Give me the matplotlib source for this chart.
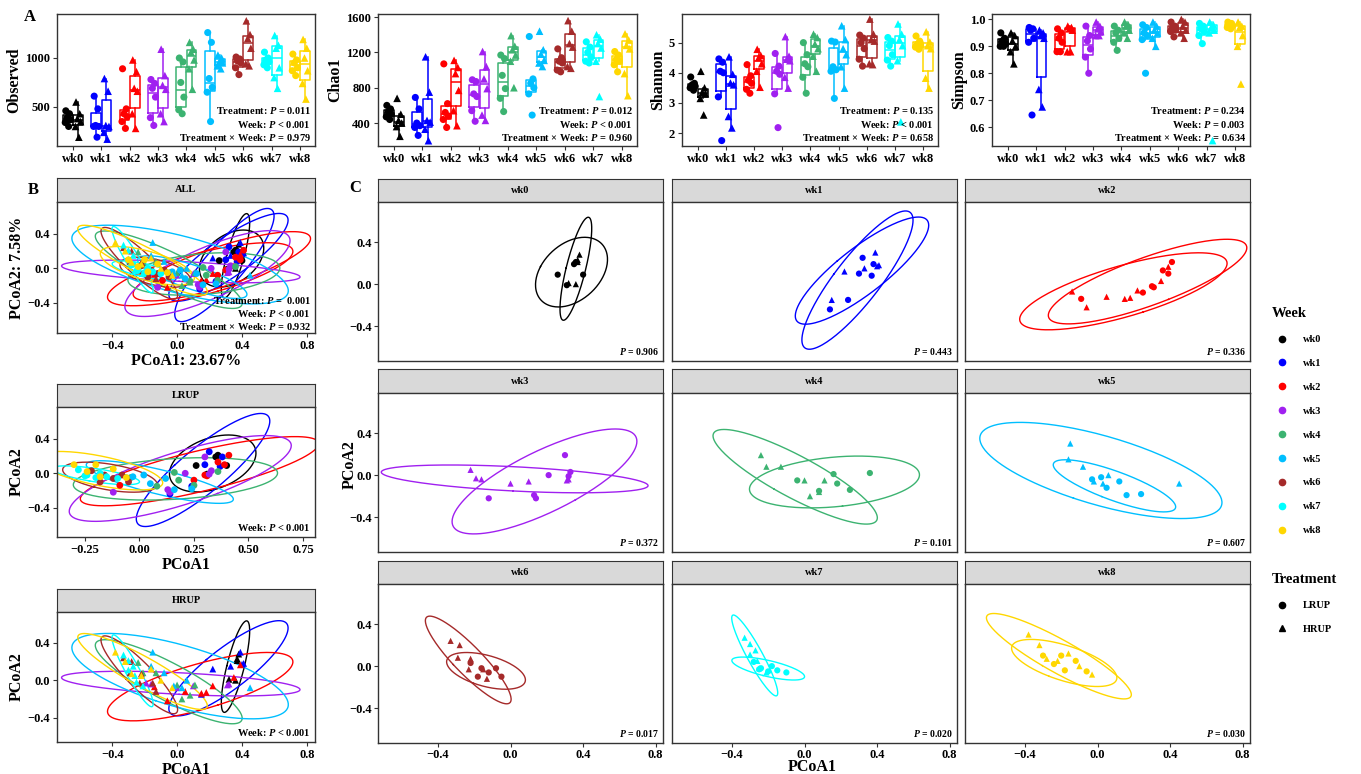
import numpy as np
import matplotlib
matplotlib.use("Agg")
import matplotlib.pyplot as plt
from matplotlib.lines import Line2D

plt.rcParams["font.family"] = ["Liberation Serif", "DejaVu Serif"]
plt.rcParams["font.weight"] = "bold"
plt.rcParams["axes.labelweight"] = "bold"
plt.rcParams["mathtext.fontset"] = "custom"
plt.rcParams["mathtext.it"] = "Liberation Serif:italic:bold"
plt.rcParams["mathtext.rm"] = "Liberation Serif:bold"

weeks = ["wk0", "wk1", "wk2", "wk3", "wk4", "wk5", "wk6", "wk7", "wk8"]
week_colors = ["#000000", "#0000FF", "#FF0000", "#A020F0", "#3CB371",
               "#00BFFF", "#A52A2A", "#00FFFF", "#FFD700"]
treatments = ["LRUP", "HRUP"]

# alpha diversity, 6 samples per group and week
observed_lrup = [[460, 430, 390, 370, 340, 300], [610, 480, 310, 300, 300, 190],
                 [890, 480, 430, 400, 350, 280], [780, 740, 690, 600, 390, 310],
                 [1000, 960, 750, 600, 470, 430], [1260, 1160, 790, 700, 650, 350],
                 [1010, 990, 970, 950, 900, 830], [1060, 1000, 980, 960, 930, 900],
                 [1040, 980, 950, 900, 870, 820]]
observed_hrup = [[550, 430, 380, 350, 300, 190], [790, 660, 310, 300, 240, 170],
                 [980, 860, 690, 660, 430, 280], [1090, 820, 720, 680, 430, 350],
                 [1160, 1090, 1060, 980, 890, 680], [1030, 1000, 960, 950, 920, 890],
                 [1380, 1240, 1200, 1100, 940, 920], [1230, 1130, 1100, 900, 800, 690],
                 [1190, 1100, 1000, 870, 740, 580]]
chao1_lrup = [[600, 560, 530, 500, 470, 440], [690, 560, 400, 370, 350, 260],
              [1070, 620, 520, 480, 440, 350], [890, 870, 730, 700, 540, 420],
              [1170, 1130, 940, 790, 680, 530], [1380, 900, 850, 800, 730, 490],
              [1240, 1140, 1100, 1080, 1000, 980], [1320, 1260, 1200, 1150, 1100, 1080],
              [1210, 1170, 1120, 1100, 1060, 980]]
chao1_hrup = [[680, 500, 430, 400, 360, 250], [1150, 750, 430, 410, 330, 200],
              [1110, 1030, 960, 770, 540, 370], [1210, 1040, 900, 790, 490, 430],
              [1390, 1270, 1230, 1170, 1100, 800], [1440, 1230, 1180, 1110, 1080, 1040],
              [1560, 1440, 1300, 1260, 1040, 1020], [1400, 1350, 1300, 1250, 1100, 700],
              [1410, 1340, 1280, 1240, 960, 710]]
shannon_lrup = [[3.86, 3.65, 3.6, 3.55, 3.5, 3.42], [4.46, 4.35, 4.05, 4.0, 3.2, 1.75],
                [4.27, 3.9, 3.75, 3.65, 3.45, 3.32], [4.64, 4.22, 4.05, 3.95, 3.3, 2.18],
                [5.0, 4.6, 4.3, 4.2, 3.85, 3.32], [5.05, 5.02, 4.2, 4.1, 4.05, 3.15],
                [5.25, 5.15, 5.0, 4.8, 4.45, 4.22], [5.17, 5.05, 4.9, 4.6, 4.42, 4.22],
                [5.22, 5.05, 4.95, 4.9, 4.85, 4.78]]
shannon_hrup = [[4.05, 3.5, 3.35, 3.3, 3.15, 2.6], [4.53, 3.95, 3.66, 3.6, 2.55, 2.17],
                [4.78, 4.57, 4.5, 4.3, 4.05, 3.52], [5.2, 4.55, 4.45, 4.4, 3.85, 3.49],
                [5.28, 5.17, 4.95, 4.8, 4.55, 4.05], [5.56, 5.1, 4.8, 4.6, 4.2, 3.49],
                [5.78, 5.28, 5.1, 5.05, 4.3, 4.27], [5.62, 5.28, 5.1, 4.9, 4.4, 2.37],
                [5.36, 5.02, 4.9, 4.8, 3.82, 3.49]]
simpson_lrup = [[0.95, 0.93, 0.92, 0.91, 0.9, 0.9], [0.97, 0.965, 0.96, 0.93, 0.915, 0.645],
                [0.965, 0.95, 0.93, 0.915, 0.88, 0.88], [0.975, 0.94, 0.92, 0.89, 0.86, 0.8],
                [0.975, 0.96, 0.95, 0.93, 0.915, 0.885], [0.98, 0.97, 0.95, 0.94, 0.925, 0.8],
                [0.99, 0.975, 0.97, 0.96, 0.955, 0.935], [0.985, 0.975, 0.965, 0.955, 0.94, 0.91],
                [0.99, 0.985, 0.98, 0.975, 0.97, 0.965]]
simpson_hrup = [[0.95, 0.94, 0.92, 0.9, 0.88, 0.835], [0.96, 0.95, 0.94, 0.93, 0.74, 0.675],
                [0.975, 0.97, 0.965, 0.96, 0.88, 0.88], [0.99, 0.975, 0.965, 0.955, 0.94, 0.94],
                [0.99, 0.98, 0.975, 0.96, 0.95, 0.93], [0.99, 0.975, 0.96, 0.95, 0.93, 0.9],
                [1.0, 0.99, 0.975, 0.96, 0.95, 0.93], [0.99, 0.98, 0.97, 0.96, 0.95, 0.55],
                [0.99, 0.975, 0.97, 0.94, 0.9, 0.76]]

alpha_p = {
    "Observed": ["0.011", "< 0.001", "0.979"],
    "Chao1": ["0.012", "< 0.001", "0.960"],
    "Shannon": ["0.135", "< 0.001", "0.658"],
    "Simpson": ["0.234", "= 0.003", "0.634"],
}

# PCoA scores (PCoA1, PCoA2) per week
pcoa_lrup = [
    [(0.26, 0.09), (0.40, 0.09), (0.36, 0.21), (0.31, -0.01), (0.35, 0.19)],
    [(0.32, 0.25), (0.38, 0.19), (0.37, 0.08), (0.24, -0.15), (0.14, -0.24), (0.30, 0.10)],
    [(-0.09, -0.14), (0.25, -0.08), (0.31, -0.03), (0.36, 0.13), (0.39, 0.10), (0.41, 0.21),
     (0.30, -0.02)],
    [(-0.12, -0.22), (0.13, -0.19), (0.14, -0.22), (0.21, 0.0), (0.30, 0.19), (0.33, 0.03),
     (0.32, -0.01)],
    [(-0.04, -0.05), (0.08, -0.15), (0.16, 0.01), (0.18, -0.08), (0.25, -0.14), (0.36, 0.02)],
    [(-0.03, -0.04), (0.05, -0.12), (0.12, -0.06), (0.16, -0.19), (0.24, -0.18), (0.02, -0.02)],
    [(-0.22, 0.03), (-0.16, -0.02), (-0.12, -0.06), (-0.08, -0.02), (-0.05, -0.10),
     (-0.18, -0.10)],
    [(-0.28, 0.04), (-0.24, -0.02), (-0.20, -0.05), (-0.15, -0.04), (-0.10, -0.06),
     (-0.25, -0.03), (-0.18, 0.0)],
    [(-0.30, 0.10), (-0.24, 0.02), (-0.18, -0.04), (-0.12, 0.05), (-0.06, -0.05), (-0.20, 0.10)],
]
pcoa_hrup = [
    [(0.38, 0.28), (0.37, 0.23), (0.32, 0.01), (0.36, 0.0), (0.37, 0.21)],
    [(0.39, 0.30), (0.41, 0.18), (0.22, 0.12), (0.15, -0.15), (0.40, 0.17), (0.33, 0.15)],
    [(-0.14, -0.07), (-0.06, -0.22), (0.15, -0.14), (0.18, -0.13), (0.35, 0.03), (0.39, 0.165),
     (0.22, -0.06), (0.05, -0.12)],
    [(-0.22, 0.05), (-0.19, -0.03), (-0.16, -0.04), (0.0, -0.08), (0.31, -0.05), (0.32, -0.04),
     (0.10, -0.06)],
    [(-0.24, 0.19), (-0.21, 0.08), (-0.13, 0.08), (0.0, -0.05), (0.03, -0.20), (0.08, -0.16),
     (0.11, -0.05)],
    [(-0.15, 0.30), (-0.16, 0.15), (-0.02, -0.06), (0.03, -0.08), (0.06, 0.0), (-0.08, 0.08),
     (0.45, -0.08)],
    [(-0.33, 0.24), (-0.28, 0.20), (-0.29, 0.08), (-0.22, 0.07), (-0.23, -0.03), (-0.15, -0.03),
     (-0.13, -0.12)],
    [(-0.33, 0.27), (-0.30, 0.21), (-0.30, 0.11), (-0.26, 0.05), (-0.25, -0.02), (-0.21, -0.06),
     (-0.27, 0.15)],
    [(-0.38, 0.30), (-0.32, 0.20), (-0.28, 0.07), (-0.16, 0.12), (-0.10, 0.0), (-0.22, 0.05),
     (-0.03, -0.08)],
]
week_p = ["0.906", "0.443", "0.336", "0.372", "0.101", "0.607", "0.017", "0.020", "0.030"]

W, H = 1361, 774
fig = plt.figure(figsize=(W / 100, H / 100), dpi=100)
EDGE = "#333333"


def box(x0, y0, x1, y1):
    return fig.add_axes([x0 / W, 1 - y1 / H, (x1 - x0) / W, (y1 - y0) / H])


def style(ax):
    for sp in ax.spines.values():
        sp.set_color(EDGE)
        sp.set_linewidth(1.0)
    ax.tick_params(length=3, width=0.8, color=EDGE, labelsize=9, pad=2)


def strip(x0, y0, x1, y1, label):
    s = box(x0, y0, x1, y1)
    s.set_facecolor("#D9D9D9")
    s.set_xticks([])
    s.set_yticks([])
    for sp in s.spines.values():
        sp.set_color(EDGE)
    s.text(0.5, 0.5, label, ha="center", va="center", fontsize=7.5, fontweight="bold")


def ellipse(ax, pts, color):
    # 95% t-type confidence ellipse, like ggplot2 stat_ellipse
    pts = np.asarray(pts, dtype=float)
    d2 = len(pts) - 1
    fq = d2 / 2 * (0.05 ** (-2 / d2) - 1)
    r = np.sqrt(2 * fq)
    vals, vecs = np.linalg.eigh(np.cov(pts.T))
    t = np.linspace(0, 2 * np.pi, 200)
    circ = np.vstack([np.cos(t), np.sin(t)])
    e = pts.mean(0)[:, None] + vecs @ (np.sqrt(np.clip(vals, 0, None))[:, None] * circ) * r
    ax.plot(e[0], e[1], color=color, lw=1.0)


# ---- A: alpha diversity boxplots
jit = [-0.07, 0.06, -0.02, 0.09, -0.09, 0.03, 0.0]
alpha_sets = [
    ("Observed", observed_lrup, observed_hrup, (100, 1450), [500, 1000], (57, 315)),
    ("Chao1", chao1_lrup, chao1_hrup, (140, 1635), [400, 800, 1200, 1600], (378, 637)),
    ("Shannon", shannon_lrup, shannon_hrup, (1.57, 5.95), [2, 3, 4, 5], (682, 938)),
    ("Simpson", simpson_lrup, simpson_hrup, (0.53, 1.02), [0.6, 0.7, 0.8, 0.9, 1.0], (992, 1250)),
]
for name, lr, hr, ylim, yt, (x0, x1) in alpha_sets:
    ax = box(x0, 14, x1, 146)
    style(ax)
    for i in range(len(weeks)):
        c = week_colors[i]
        for vals, dx, mk, s in [(lr[i], -0.18, "o", 26), (hr[i], 0.18, "^", 30)]:
            ax.boxplot([vals], positions=[i + dx], widths=0.34, showcaps=False, showfliers=False,
                       boxprops=dict(color=c, lw=1.1), whiskerprops=dict(color=c, lw=1.1),
                       medianprops=dict(color=c, lw=1.1))
            ax.scatter(i + dx + np.array(jit[:len(vals)]), vals, marker=mk, s=s, color=c,
                       edgecolors="none", zorder=3)
    ax.set_xlim(-0.56, 8.53)
    ax.set_ylim(*ylim)
    ax.set_xticks(range(len(weeks)))
    ax.set_xticklabels(weeks)
    ax.set_yticks(yt)
    if name == "Simpson":
        ax.set_yticklabels([f"{v:.1f}" for v in yt])
    ax.set_ylabel(name, fontsize=11.5, labelpad=2)
    p = alpha_p[name]
    wk = "$P$ < 0.001" if p[1].startswith("<") else "$P$ " + p[1]
    ax.text(0.985, 0.27, f"Treatment: $P$ = {p[0]}", transform=ax.transAxes, ha="right",
            va="center", fontsize=7.5)
    ax.text(0.985, 0.165, f"Week: {wk}", transform=ax.transAxes, ha="right", va="center",
            fontsize=7.5)
    ax.text(0.985, 0.065, f"Treatment \u00d7 Week: $P$ = {p[2]}", transform=ax.transAxes,
            ha="right", va="center", fontsize=7.5)

# ---- B: PCoA overall and per treatment
b_specs = [
    ("ALL", 178, 202, 333, (-0.74, 0.85), [-0.4, 0.0, 0.4, 0.8], (-0.75, 0.77),
     "PCoA1: 23.67%", "PCoA2: 7.58%"),
    ("LRUP", 384, 407, 537, (-0.378, 0.805), [-0.25, 0.0, 0.25, 0.5, 0.75], (-0.74, 0.77),
     "PCoA1", "PCoA2"),
    ("HRUP", 589, 612, 742, (-0.74, 0.85), [-0.4, 0.0, 0.4, 0.8], (-0.66, 0.73),
     "PCoA1", "PCoA2"),
]
for label, ys, yp, yb, xlim, xt, ylim, xl, yl in b_specs:
    strip(57, ys, 315, yp, label)
    ax = box(57, yp, 315, yb)
    style(ax)
    for i in range(len(weeks)):
        c = week_colors[i]
        groups = []
        if label in ("ALL", "LRUP"):
            groups.append((pcoa_lrup[i], "o"))
        if label in ("ALL", "HRUP"):
            groups.append((pcoa_hrup[i], "^"))
        for pts, mk in groups:
            pts = np.array(pts)
            ellipse(ax, pts, c)
            ax.scatter(pts[:, 0], pts[:, 1], marker=mk, s=24, color=c, edgecolors="none", zorder=3)
    ax.set_xlim(*xlim)
    ax.set_ylim(*ylim)
    ax.set_xticks(xt)
    ax.set_yticks([-0.4, 0.0, 0.4])
    ax.set_xlabel(xl, fontsize=11.5, labelpad=1)
    ax.set_ylabel(yl, fontsize=11.5, labelpad=2)
    if label == "ALL":
        ax.text(0.985, 0.25, "Treatment: $P$ =  0.001", transform=ax.transAxes, ha="right",
                va="center", fontsize=7.5)
        ax.text(0.985, 0.15, "Week: $P$ < 0.001", transform=ax.transAxes, ha="right",
                va="center", fontsize=7.5)
        ax.text(0.985, 0.05, "Treatment \u00d7 Week: $P$ = 0.932", transform=ax.transAxes,
                ha="right", va="center", fontsize=7.5)
    else:
        ax.text(0.985, 0.07, "Week: $P$ < 0.001", transform=ax.transAxes, ha="right",
                va="center", fontsize=7.5)

# ---- C: PCoA per week
cols = [(378, 663), (672, 957), (965, 1250)]
rows = [(179, 202, 361), (369, 393, 552), (561, 584, 743)]
for i, wk in enumerate(weeks):
    r, cc = divmod(i, 3)
    x0, x1 = cols[cc]
    ys, yp, yb = rows[r]
    strip(x0, ys, x1, yp, wk)
    ax = box(x0, yp, x1, yb)
    style(ax)
    c = week_colors[i]
    for pts, mk in [(np.array(pcoa_lrup[i]), "o"), (np.array(pcoa_hrup[i]), "^")]:
        ellipse(ax, pts, c)
        ax.scatter(pts[:, 0], pts[:, 1], marker=mk, s=20, color=c, edgecolors="none", zorder=3)
    ax.set_xlim(-0.73, 0.84)
    ax.set_ylim(-0.73, 0.78)
    ax.set_xticks([-0.4, 0.0, 0.4, 0.8])
    ax.set_yticks([-0.4, 0.0, 0.4])
    ax.tick_params(pad=1.5)
    if cc != 0:
        ax.tick_params(left=False, labelleft=False)
    if r != 2:
        ax.tick_params(bottom=False, labelbottom=False)
    ax.text(0.985, 0.06, f"$P$ = {week_p[i]}", transform=ax.transAxes, ha="right",
            va="center", fontsize=7)

fig.text(350 / W, 1 - 465 / H, "PCoA2", rotation=90, ha="center", va="center", fontsize=11.5)
fig.text(812 / W, 1 - 767 / H, "PCoA1", ha="center", va="center", fontsize=11.5)

# panel letters
fig.text(30 / W, 1 - 17 / H, "A", ha="center", va="center", fontsize=12)
fig.text(33 / W, 1 - 190 / H, "B", ha="center", va="center", fontsize=12)
fig.text(355 / W, 1 - 188 / H, "C", ha="center", va="center", fontsize=12)

# legends
week_handles = [Line2D([], [], marker="o", ls="", color=c, markersize=4.5) for c in week_colors]
fig.legend(week_handles, weeks, title="Week", loc="upper left",
           bbox_to_anchor=(1262 / W, 1 - 298 / H), frameon=False, fontsize=7.5,
           title_fontsize=10.5, labelspacing=1.4, handletextpad=1.0, alignment="left")
tr_handles = [Line2D([], [], marker=m, ls="", color="black", markersize=4.5) for m in ["o", "^"]]
fig.legend(tr_handles, treatments, title="Treatment", loc="upper left",
           bbox_to_anchor=(1262 / W, 1 - 564 / H), frameon=False, fontsize=7.5,
           title_fontsize=10.5, labelspacing=1.4, handletextpad=1.0, alignment="left")

fig.savefig("out.png", dpi=100)
